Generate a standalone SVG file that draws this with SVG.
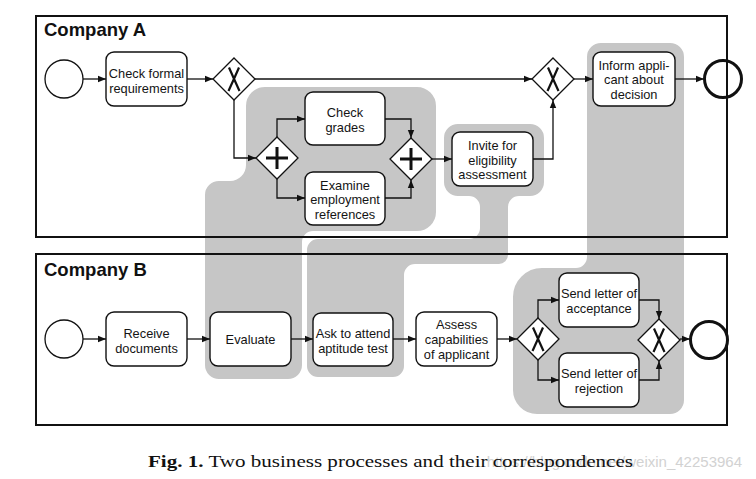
<svg xmlns="http://www.w3.org/2000/svg" width="756" height="479" viewBox="0 0 756 479">
<style>
.bg{fill:#c6c6c6;stroke:#ffffff;stroke-width:2}
.pool{fill:none;stroke:#111;stroke-width:2}
.title{font-family:"Liberation Sans",Arial,sans-serif;font-weight:bold;font-size:18.5px;fill:#111}
.task rect{fill:#fff;stroke:#111;stroke-width:1.4}
.lbl{font-family:"Liberation Sans",Arial,sans-serif;font-size:12.8px;fill:#141414;text-anchor:middle}
.gw polygon{fill:#fff;stroke:#111;stroke-width:1.3}
.mk{fill:none;stroke:#111;stroke-width:2.2}
.pl{fill:none;stroke:#111;stroke-width:3}
.ev{fill:none;stroke:#111;stroke-width:1.3}
.evw{fill:#fff;stroke:#111;stroke-width:1.3}
.end{fill:none;stroke:#111;stroke-width:3}
.c{fill:none;stroke:#111;stroke-width:1.3;marker-end:url(#ah)}
</style>
<defs>
<marker id="ah" viewBox="0 0 8 8" refX="8" refY="4" markerWidth="8" markerHeight="8" markerUnits="userSpaceOnUse" orient="auto">
<path d="M0,0.8 L8,4 L0,7.2 Z" fill="#111"/>
</marker>
</defs>
<rect width="756" height="479" fill="#fff"/>
<g id="correspondences">
<path class="bg" d="M265,86 H417 A20,20 0 0 1 437,106 V212 A20,20 0 0 1 417,232 H313 A10,10 0 0 0 303,242 V365 A15,15 0 0 1 288,380 H219 A15,15 0 0 1 204,365 V195 A15,15 0 0 1 219,180 H230 A15,15 0 0 0 245,165 V106 A20,20 0 0 1 265,86 Z"/>
<path class="bg" d="M458,123 H530 A15,15 0 0 1 545,138 V182 A15,15 0 0 1 530,197 H519 A10,10 0 0 0 509,207 V255 A10,10 0 0 1 499,265 H415 A10,10 0 0 0 405,275 V366 A12,12 0 0 1 393,378 H318 A12,12 0 0 1 306,366 V250 A12,12 0 0 1 318,238 H469 A10,10 0 0 0 479,228 V207 A10,10 0 0 0 469,197 H458 A15,15 0 0 1 443,182 V138 A15,15 0 0 1 458,123 Z"/>
<path class="bg" d="M601,42 H670 A15,15 0 0 1 685,57 V400 A15,15 0 0 1 670,415 H537 A25,25 0 0 1 512,390 V297 A30,30 0 0 1 542,267 H576 A10,10 0 0 0 586,257 V57 A15,15 0 0 1 601,42 Z"/>
</g>
<g id="poolA">
<rect class="pool" x="36" y="16" width="691" height="221"/>
<text class="title" x="44" y="36">Company A</text>
</g>
<g id="poolB">
<rect class="pool" x="36" y="254" width="691" height="171"/>
<text class="title" x="44" y="276">Company B</text>
</g>
<g id="connectors">
<path class="c" d="M83,79 H106"/>
<path class="c" d="M187,79 H213"/>
<path class="c" d="M255,79 H532"/>
<path class="c" d="M234,100 V158 H256"/>
<path class="c" d="M277,137 V119 H305"/>
<path class="c" d="M277,179 V198 H305"/>
<path class="c" d="M385,119 H411 V138"/>
<path class="c" d="M385,198 H411 V180"/>
<path class="c" d="M432,159 H452"/>
<path class="c" d="M533,159 H553 V100"/>
<path class="c" d="M574,79 H593"/>
<path class="c" d="M675,79 H704"/>
<path class="c" d="M83,339 H106"/>
<path class="c" d="M187,339 H210"/>
<path class="c" d="M291,339 H313"/>
<path class="c" d="M393,339 H416"/>
<path class="c" d="M497,339 H517"/>
<path class="c" d="M538,318 V300 H559"/>
<path class="c" d="M538,360 V380 H559"/>
<path class="c" d="M639,300 H659 V319"/>
<path class="c" d="M639,380 H659 V361"/>
<path class="c" d="M680,339 H690"/>
</g>
<g id="startA"><circle class="evw" cx="64" cy="79" r="19"/></g>
<g id="checkFormal" class="task"><rect x="106" y="52" width="81" height="54" rx="8"/><text class="lbl" x="146.5" y="77.5">Check formal</text><text class="lbl" x="146.5" y="92.5">requirements</text></g>
<g id="xorA1" class="gw"><polygon points="234,58 255,79 234,100 213,79"/><path class="mk" d="M229,67.5 Q234,79 239.5,91 M239,67.5 Q234,79 228.5,91"/></g>
<g id="andA1" class="gw"><polygon points="277,137 298,158 277,179 256,158"/><path class="pl" d="M277,147 V169 M266,158 H288"/></g>
<g id="checkGrades" class="task"><rect x="305" y="92" width="80" height="53" rx="8"/><text class="lbl" x="345" y="117">Check</text><text class="lbl" x="345" y="131.5">grades</text></g>
<g id="examine" class="task"><rect x="305" y="172" width="80" height="53" rx="8"/><text class="lbl" x="345" y="189.5">Examine</text><text class="lbl" x="345" y="204">employment</text><text class="lbl" x="345" y="218.5">references</text></g>
<g id="andA2" class="gw"><polygon points="411,138 432,159 411,180 390,159"/><path class="pl" d="M411,148 V170 M400,159 H422"/></g>
<g id="invite" class="task"><rect x="452" y="132" width="81" height="54" rx="8"/><text class="lbl" x="492.5" y="150">Invite for</text><text class="lbl" x="492.5" y="164.5">eligibility</text><text class="lbl" x="492.5" y="179">assessment</text></g>
<g id="xorA2" class="gw"><polygon points="553,58 574,79 553,100 532,79"/><path class="mk" d="M548,67.5 Q553,79 558.5,91 M558,67.5 Q553,79 547.5,91"/></g>
<g id="inform" class="task"><rect x="593" y="52" width="82" height="54" rx="8"/><text class="lbl" x="634" y="69.5">Inform appli-</text><text class="lbl" x="634" y="84">cant about</text><text class="lbl" x="634" y="98.5">decision</text></g>
<g id="endA"><circle class="end" cx="723" cy="79" r="18.5"/></g>
<g id="startB"><circle class="evw" cx="64" cy="339" r="19"/></g>
<g id="receive" class="task"><rect x="106" y="312" width="81" height="54" rx="8"/><text class="lbl" x="146.5" y="337.5">Receive</text><text class="lbl" x="146.5" y="352.5">documents</text></g>
<g id="evaluate" class="task"><rect x="210" y="312" width="81" height="54" rx="8"/><text class="lbl" x="250.5" y="344">Evaluate</text></g>
<g id="askAttend" class="task"><rect x="313" y="313" width="80" height="53" rx="8"/><text class="lbl" x="353" y="337.5">Ask to attend</text><text class="lbl" x="353" y="352.5">aptitude test</text></g>
<g id="assess" class="task"><rect x="416" y="312" width="81" height="54" rx="8"/><text class="lbl" x="456.5" y="329">Assess</text><text class="lbl" x="456.5" y="344">capabilities</text><text class="lbl" x="456.5" y="359">of applicant</text></g>
<g id="xorB1" class="gw"><polygon points="538,318 559,339 538,360 517,339"/><path class="mk" d="M533,327.5 Q538,339 543.5,351 M543,327.5 Q538,339 532.5,351"/></g>
<g id="sendAccept" class="task"><rect x="559" y="273" width="80" height="54" rx="8"/><text class="lbl" x="599" y="298">Send letter of</text><text class="lbl" x="599" y="313">acceptance</text></g>
<g id="sendReject" class="task"><rect x="559" y="353" width="80" height="54" rx="8"/><text class="lbl" x="599" y="378">Send letter of</text><text class="lbl" x="599" y="393">rejection</text></g>
<g id="xorB2" class="gw"><polygon points="659,319 680,340 659,361 638,340"/><path class="mk" d="M654,328.5 Q659,340 664.5,352 M664,328.5 Q659,340 653.5,352"/></g>
<g id="endB"><circle class="end" cx="709" cy="340" r="18.5"/></g>
<text x="742" y="467" text-anchor="end" font-family="'Liberation Sans',Arial,sans-serif" font-size="15" fill="#d2d2d2">https://blog.csdn.net/weixin_42253964</text>
<text x="148" y="467" font-family="'Liberation Serif','Times New Roman',serif" font-size="16.5" fill="#111" textLength="485" lengthAdjust="spacingAndGlyphs"><tspan font-weight="bold">Fig. 1.</tspan> Two business processes and their correspondences</text>
</svg>
